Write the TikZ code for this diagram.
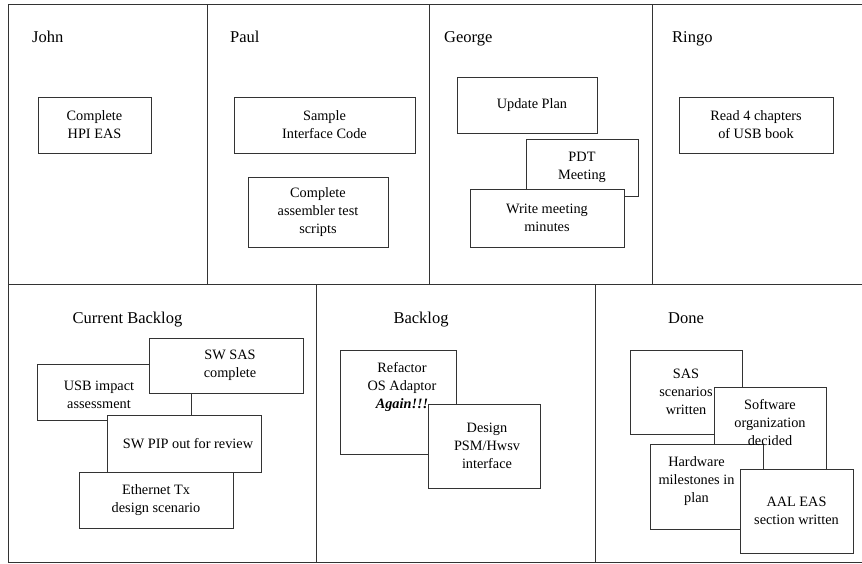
\documentclass[tikz,border=0pt]{standalone}
\usepackage{fontspec}
\setmainfont{Liberation Serif}
\tikzset{
  frame/.style={draw=black!80, line width=0.8pt},
  card/.style={draw=black!80, line width=0.8pt, fill=white, inner sep=0pt, align=center,
    font=\fontsize{14.3}{18}\selectfont},
  cardtext/.style={inner sep=0pt, align=center, font=\fontsize{14.3}{18}\selectfont},
  head/.style={inner sep=0pt, font=\fontsize{16.5}{20}\selectfont}
}
\begin{document}
\begin{tikzpicture}[x=1pt,y=-1pt]
\useasboundingbox (0,0) rectangle (862,563);
% frame
\coordinate (tl) at (8,4);
\coordinate (tr) at (862,4);
\coordinate (bl) at (8,562);
\coordinate (br) at (862,562);
\coordinate (ml) at (8,284);
\coordinate (mr) at (862,284);
\draw[frame] (tr) -- (tl) -- (bl) -- (br);
\draw[frame] (ml) -- (mr);
\coordinate (d1t) at (207,4);   \coordinate (d1b) at (207,284);
\coordinate (d2t) at (429.5,4); \coordinate (d2b) at (429.5,284);
\coordinate (d3t) at (652,4);   \coordinate (d3b) at (652,284);
\coordinate (d4t) at (316,284); \coordinate (d4b) at (316,562);
\coordinate (d5t) at (595,284); \coordinate (d5b) at (595,562);
\draw[frame] (d1t) -- (d1b) (d2t) -- (d2b) (d3t) -- (d3b) (d4t) -- (d4b) (d5t) -- (d5b);

% headers
\node[head, anchor=base west] (hjohn) at (32,42) {John};
\node[head, anchor=base west] (hpaul) at (230,42) {Paul};
\node[head, anchor=base west] (hgeorge) at (444,42) {George};
\node[head, anchor=base west] (hringo) at (672,42) {Ringo};
\node[head, anchor=base] (hcur) at (127.5,323) {Current Backlog};
\node[head, anchor=base] (hback) at (421,323) {Backlog};
\node[head, anchor=base] (hdone) at (686,323) {Done};

% John
\node[card, minimum width=113pt, minimum height=56pt] (john1) at (94.5,125) {Complete\\HPI EAS};
% Paul
\node[card, minimum width=181pt, minimum height=56pt] (paul1) at (324.5,125) {Sample\\Interface Code};
\node[card, minimum width=140pt, minimum height=70pt] (paul2) at (318,212) {Complete\\assembler test\\scripts};
% George
\node[card, minimum width=140pt, minimum height=56pt] (geo1) at (527,105) {\hspace*{10pt}Update Plan};
\node[card, minimum width=112pt, minimum height=57pt] (geo2) at (582,167.5) {PDT\\Meeting};
\node[card, minimum width=154pt, minimum height=58pt] (geo3) at (547,218) {Write meeting\\minutes};
% Ringo
\node[card, minimum width=154pt, minimum height=56pt] (ringo1) at (756,125) {Read 4 chapters\\of USB book};

% Current Backlog
\node[card, minimum width=154pt, minimum height=56pt] (usb) at (114,392) {};
\node[cardtext] (usbtxt) at ([xshift=-15pt,yshift=-3pt]usb.center) {USB impact\\assessment};
\node[card, minimum width=154pt, minimum height=55pt] (swsas) at (226,365.5) {\hspace*{8pt}SW SAS\\\hspace*{8pt}complete};
\node[card, minimum width=154pt, minimum height=57pt] (pip) at (184,443.5) {\hspace*{8pt}SW PIP out for review};
\node[card, minimum width=154pt, minimum height=56pt] (eth) at (156,500) {Ethernet Tx\\design scenario};

% Backlog
\node[card, minimum width=116pt, minimum height=104pt] (refac) at (398,402) {};
\node[cardtext] (refactxt) at ([xshift=4pt,yshift=15pt]refac.center) {Refactor\\OS Adaptor\\\textbf{\textit{Again!!!}}};
\node[card, minimum width=112pt, minimum height=84pt] (design) at (484,446) {\hspace*{6pt}Design\\\hspace*{6pt}PSM/Hwsv\\\hspace*{6pt}interface};

% Done
\node[card, minimum width=112pt, minimum height=84pt] (sas) at (686,392) {SAS\\scenarios\\written};
\node[card, minimum width=112pt, minimum height=84pt] (soft) at (770,429) {};
\node[card, minimum width=113pt, minimum height=85pt] (hw) at (706.5,486.5) {};
\node[cardtext] (softtxt) at ([yshift=6pt]soft.center) {Software\\organization\\decided};
\node[cardtext] (hwtxt) at ([xshift=-10pt,yshift=5pt]hw.center) {Hardware\\milestones in\\plan};
\node[card, minimum width=113pt, minimum height=84pt] (aal) at (796.5,511) {AAL EAS\\section written};
\end{tikzpicture}
\end{document}
